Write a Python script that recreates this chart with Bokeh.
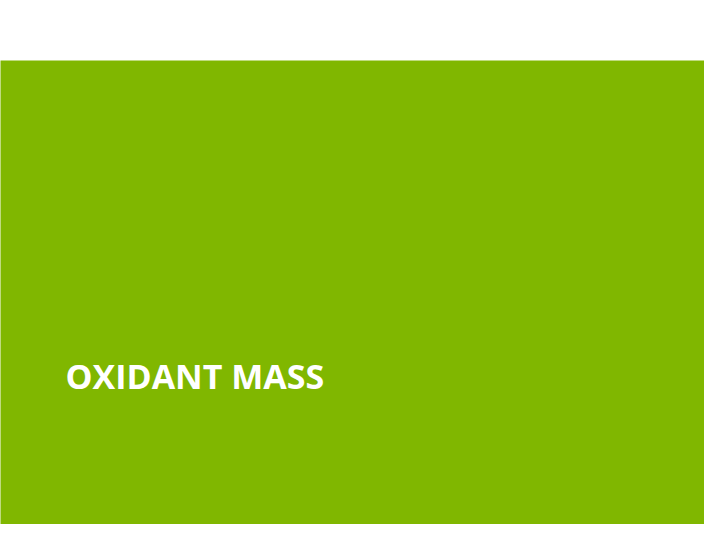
from bokeh.plotting import figure
from bokeh.models import Range1d
from bokeh.core.properties import value
from bokeh.embed import file_html
from bokeh.resources import INLINE

# Slide content
title_text = ["OXIDANT MASS"]
title_x = [65]
title_y = [375]
band_left = [-10]
band_right = [720]
band_top = [60]
band_bottom = [540]

p = figure(width=704, height=524, output_backend="svg", toolbar_location=None,
           x_range=Range1d(0, 704), y_range=Range1d(524, 0),
           min_border=0, background_fill_color="white", border_fill_color="white",
           outline_line_color=None)
p.axis.visible = False
p.grid.visible = False

p.quad(left=band_left, right=band_right, top=band_top, bottom=band_bottom,
       fill_color="#80B700", line_color=None)
p.text(x=title_x, y=title_y, text=title_text, text_color="white",
       text_font=value("Open Sans"), text_font_size="34px", text_font_style="bold",
       text_baseline="alphabetic", text_align="left")

open("out.html", "w").write(file_html(p, INLINE))
